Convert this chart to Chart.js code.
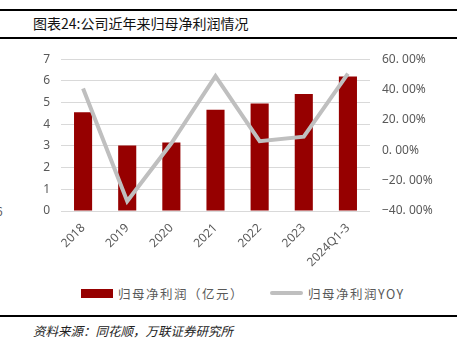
<!DOCTYPE html>
<html><head><meta charset="utf-8">
<script src="https://cdn.jsdelivr.net/npm/chart.js@4"></script>
<style>
html,body{margin:0;padding:0;background:#fff;}
body{width:457px;height:350px;position:relative;overflow:hidden;font-family:"Noto Sans CJK SC","Noto Sans",sans-serif;}
.rule{position:absolute;left:0;width:457px;background:#000;}
#title{position:absolute;left:33px;top:14px;font-size:14px;line-height:18px;color:#111;}
#src{position:absolute;left:33px;top:322px;font-size:12.5px;line-height:18px;color:#222;font-style:italic;}
#wrap{position:absolute;left:0;top:40px;width:457px;height:232px;}
#legend{position:absolute;top:285px;left:0;width:457px;height:16px;font-size:12.5px;color:#595959;}
.li{position:absolute;top:0;display:flex;align-items:center;height:16px;white-space:nowrap;letter-spacing:1.5px;}
.sw{display:inline-block;margin-right:5px;}
#stray{position:absolute;left:-4px;top:202px;font-size:12px;color:#595959;}
</style></head>
<body>
<div class="rule" style="top:9px;height:2px"></div>
<div id="title">图表24:公司近年来归母净利润情况</div>
<div class="rule" style="top:37px;height:2px"></div>
<div id="stray">6</div>
<div id="wrap"><canvas id="c" width="457" height="232"></canvas></div>
<div id="legend"></div>
<div class="rule" style="top:315px;height:2px"></div>
<div id="src">资料来源：同花顺，万联证券研究所</div>
<script>
const categories = ['2018','2019','2020','2021','2022','2023','2024Q1-3'];
const profit = [4.55, 3.02, 3.16, 4.67, 4.96, 5.39, 6.20];
const profitYoY = [40.7, -33.5, 4.6, 48.8, 6.0, 9.0, 50.5];
const leftTicks = [0,1,2,3,4,5,6,7];
const rightTicks = [-40,-20,0,20,40,60];
const seriesNames = ['归母净利润（亿元）','归母净利润YOY'];
const barColor = '#960000';
const lineColor = '#bfbfbf';

const tickFont = {family:'"Noto Sans","DejaVu Sans",sans-serif', size:12};
const chart = new Chart(document.getElementById('c'), {
  data: {
    labels: categories,
    datasets: [
      {type:'line', label:seriesNames[1], data:profitYoY, yAxisID:'y1',
       borderColor:lineColor, backgroundColor:lineColor, borderWidth:4,
       pointRadius:0, tension:0, order:0},
      {type:'bar', label:seriesNames[0], data:profit, yAxisID:'y',
       backgroundColor:barColor, borderWidth:0,
       categoryPercentage:1, barPercentage:0.41, order:1}
    ]
  },
  options: {
    responsive:false, animation:false,
    layout:{padding:{top:12,bottom:0,left:0,right:0}},
    plugins:{legend:{display:false}, tooltip:{enabled:false}},
    scales:{
      x:{
        grid:{display:false}, border:{display:false},
        ticks:{color:'#595959', font:tickFont, minRotation:45, maxRotation:45, padding:2},
        afterFit(s){ s.height = 61; }
      },
      y:{
        position:'left', min:0, max:7,
        afterBuildTicks(s){ s.ticks = leftTicks.map(v=>({value:v})); },
        grid:{color:'#d9d9d9', lineWidth:1, drawTicks:false}, border:{display:false},
        ticks:{color:'#595959', font:tickFont, padding:11},
        afterFit(s){ s.width = 61; }
      },
      y1:{
        position:'right', min:-40, max:60,
        afterBuildTicks(s){ s.ticks = rightTicks.map(v=>({value:v})); },
        grid:{display:false, drawTicks:false}, border:{display:false},
        ticks:{color:'#595959', font:tickFont, padding:12,
          callback:(v)=> (v.toFixed(2)).replace('-','−').replace('.','. ') + '%'},
        afterFit(s){ s.width = 87; }
      }
    }
  }
});

// HTML legend from dataset names
const lg = document.getElementById('legend');
const items = [
  {name:seriesNames[0], left:81, sw:'<span class="sw" style="width:32px;height:9px;background:'+barColor+'"></span>'},
  {name:seriesNames[1], left:270, sw:'<span class="sw" style="width:33px;height:4px;border-radius:2px;background:'+lineColor+'"></span>'}
];
items.forEach(it=>{
  const d=document.createElement('div'); d.className='li'; d.style.left=it.left+'px';
  d.innerHTML = it.sw + '<span>'+it.name+'</span>'; lg.appendChild(d);
});
</script>
</body></html>
